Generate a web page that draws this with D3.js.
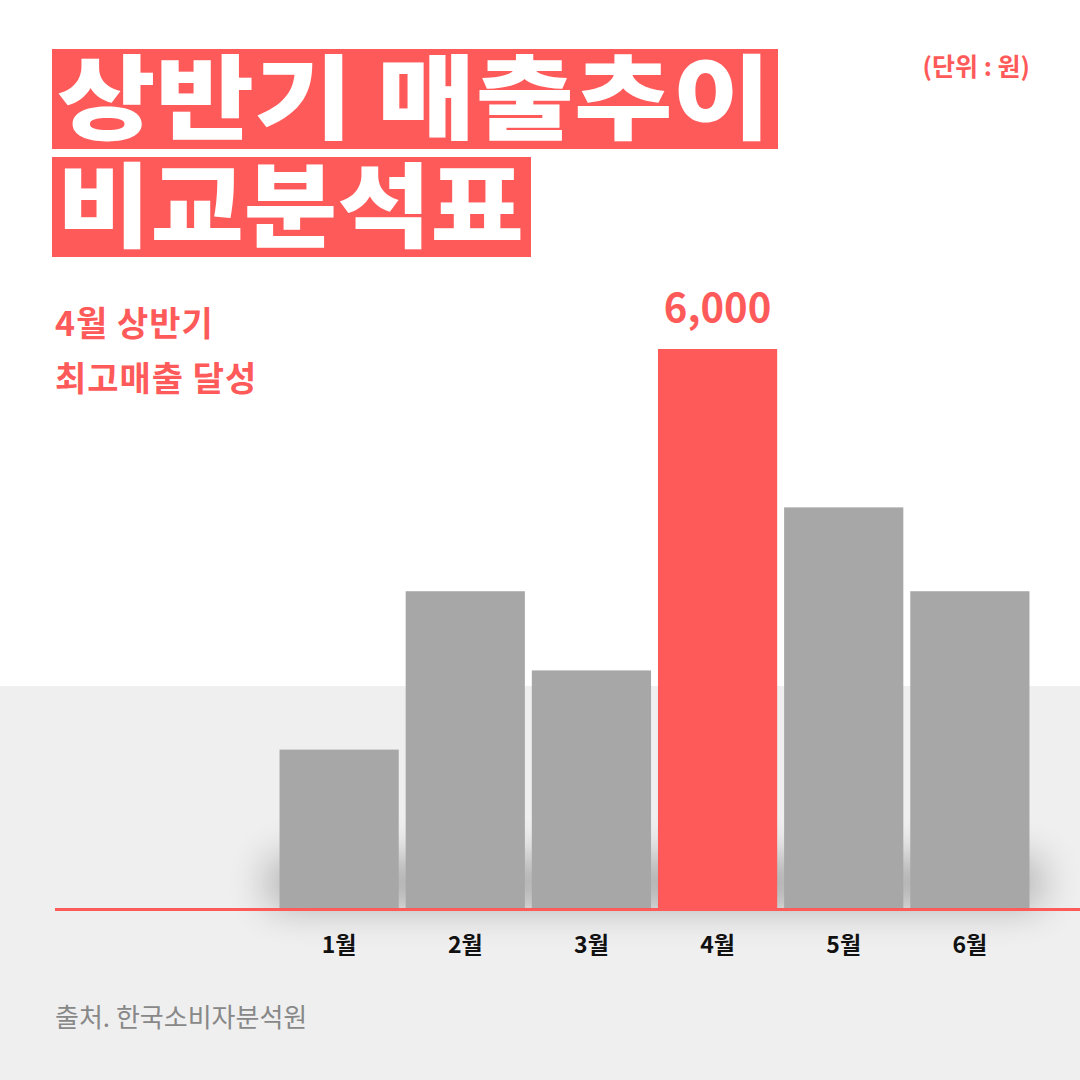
<!DOCTYPE html>
<html>
<head>
<meta charset="utf-8">
<script src="https://cdn.jsdelivr.net/npm/d3@7"></script>
<style>
  body { margin: 0; background: #fff; }
  svg { display: block; font-family: "Noto Sans CJK KR", "Noto Sans", sans-serif; }
</style>
</head>
<body>
<svg id="chart" width="1080" height="1080"></svg>
<script>
const months = ['1월', '2월', '3월', '4월', '5월', '6월'];
const sales = [1700, 3400, 2550, 6000, 4300, 3400];
const highlight = '4월';
const titleLines = ['상반기 매출추이', '비교분석표'];
const subLines = ['4월 상반기', '최고매출 달성'];

const RED = '#ff5a5a';
const svg = d3.select('#chart');

// grey floor
svg.append('rect').attr('x', 0).attr('y', 686).attr('width', 1080).attr('height', 394).attr('fill', '#efefef');

// title blocks
const titleBoxes = [[52, 49, 726], [52, 157, 479]];
titleLines.forEach((t, i) => {
    const [x, y, w] = titleBoxes[i];
    svg.append('rect').attr('x', x).attr('y', y).attr('width', w).attr('height', 100).attr('fill', RED);
    svg.append('text')
        .attr('x', x + 5).attr('y', y + 83)
        .attr('fill', '#fff').attr('font-size', 92).attr('font-weight', 900)
        .attr('textLength', w - 12).attr('lengthAdjust', 'spacingAndGlyphs')
        .text(t);
});

svg.append('text').attr('x', 1030).attr('y', 76).attr('text-anchor', 'end')
    .attr('fill', RED).attr('font-size', 25).attr('font-weight', 700).text('(단위 : 원)');

subLines.forEach((t, i) => {
    svg.append('text').attr('x', 55).attr('y', 336 + i * 55)
        .attr('fill', RED).attr('font-size', 34).attr('font-weight', 700)
        .attr('letter-spacing', 1).text(t);
});

const x = d3.scaleBand().domain(months).range([277, 1032]).paddingInner(0.055).paddingOuter(0.02);
const y = d3.scaleLinear().domain([0, 6000]).range([908, 349]);

const defs = svg.append('defs');
const f = defs.append('filter').attr('id', 'shadow').attr('x', '-30%').attr('y', '-100%').attr('width', '160%').attr('height', '300%');
f.append('feGaussianBlur').attr('stdDeviation', 20);

// shadow under bars
svg.append('rect')
    .attr('x', x(months[0]) - 10).attr('y', 860)
    .attr('width', x(months[5]) + x.bandwidth() - x(months[0]) + 20).attr('height', 45)
    .attr('fill', '#000').attr('opacity', 0.3).attr('filter', 'url(#shadow)');

svg.selectAll('.bar').data(months).join('rect')
    .attr('class', 'bar')
    .attr('x', d => x(d)).attr('width', x.bandwidth())
    .attr('y', (d, i) => y(sales[i])).attr('height', (d, i) => y(0) - y(sales[i]))
    .attr('fill', d => d === highlight ? RED : '#a7a7a7');

const hi = months.indexOf(highlight);
svg.append('text').attr('x', x(highlight) + x.bandwidth() / 2).attr('y', y(sales[hi]) - 27)
    .attr('text-anchor', 'middle').attr('fill', RED).attr('font-size', 40).attr('font-weight', 700)
    .text(d3.format(',')(sales[hi]));

svg.append('line').attr('x1', 55).attr('x2', 1080).attr('y1', 909.5).attr('y2', 909.5)
    .attr('stroke', RED).attr('stroke-width', 3);

const axis = d3.axisBottom(x).tickSize(0).tickPadding(0);
const g = svg.append('g').attr('transform', 'translate(0,953)').call(axis);
g.select('.domain').remove();
g.selectAll('text').attr('font-size', 23).attr('font-weight', 700).attr('fill', '#111')
    .attr('font-family', '"Noto Sans CJK KR", sans-serif').attr('dy', 0);

svg.append('text').attr('x', 55).attr('y', 1027).attr('fill', '#888').attr('font-size', 26)
    .text('출처. 한국소비자분석원');
</script>
</body>
</html>
